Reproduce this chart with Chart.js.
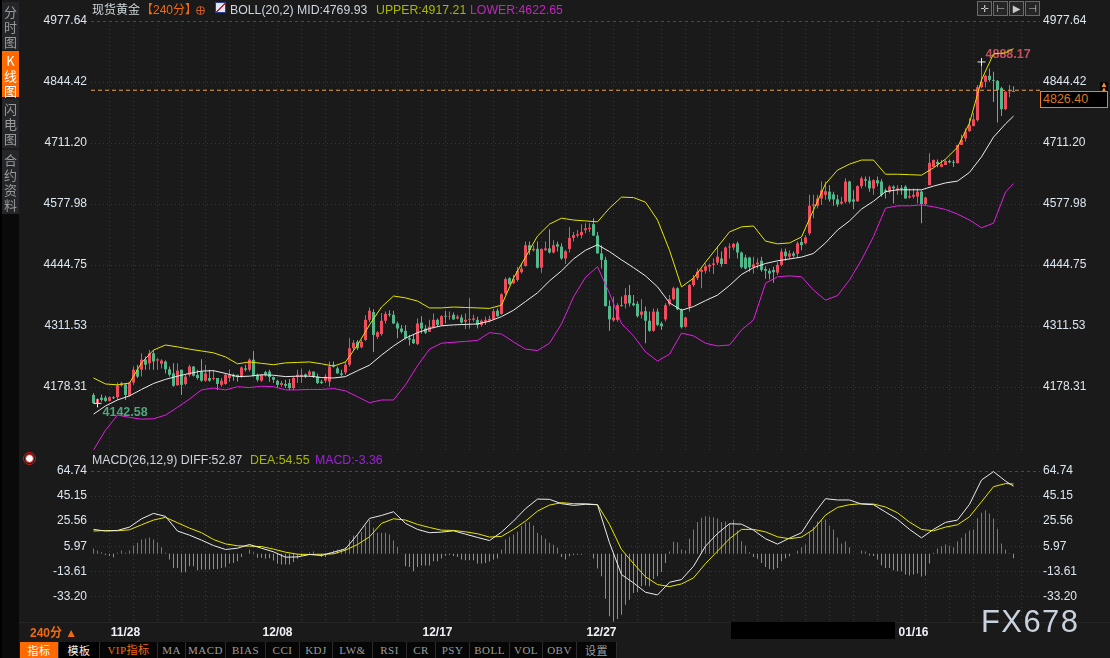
<!DOCTYPE html>
<html>
<head>
<meta charset="utf-8">
<title>现货黄金</title>
<script src="https://cdn.jsdelivr.net/npm/chart.js"></script>
<style>
  html, body { margin: 0; padding: 0; background: #1a1a1a; overflow: hidden; }
  body { width: 1110px; height: 658px; position: relative; font-family: "Liberation Sans", "Noto Sans CJK SC", sans-serif; font-size: 12px; color: #ccd6e0; }
  canvas { position: absolute; left: 0; }
  .t { position: absolute; white-space: nowrap; z-index: 2; line-height: 14px; }
  .side { position: absolute; left: 2px; width: 17px; text-align: center; font: 13px/15px "Noto Sans CJK SC", sans-serif; color: #9a9a9a; background: #24262a; z-index: 2; box-sizing: border-box; padding-top: 2px; }
  .tab { position: absolute; top: 642px; height: 16px; line-height: 16px; text-align: center; font: 11px/16px "Liberation Serif", "Noto Sans CJK SC", serif; color: #9c9c9c; background: #060606; border-right: 1px solid #2c2c2c; box-sizing: border-box; z-index: 2; letter-spacing: .5px; }
  .tool { position: absolute; top: 1px; width: 13px; height: 13px; border: 1px solid #6a6a6a; background: #262626; color: #c8c8c8; font: 10px/13px "DejaVu Sans", sans-serif; text-align: center; z-index: 2; }
</style>
</head>
<body>
<canvas id="priceChart" width="1110" height="450" style="top:0"></canvas>
<canvas id="macdChart" width="1110" height="190" style="top:450px"></canvas>

<div style="position:absolute;left:0;top:0;width:2px;height:658px;background:#000;z-index:1"></div>
<div style="position:absolute;left:2px;top:214px;width:17px;height:444px;background:#0a0a0a;z-index:1"></div>
<div class="side" style="top:2px;height:48px">分<br>时<br>图</div>
<div class="side" style="top:51px;height:46px;background:#ff6a00;color:#fff">K<br>线<br>图</div>
<div class="side" style="top:99px;height:49px">闪<br>电<br>图</div>
<div class="side" style="top:150px;height:64px">合<br>约<br>资<br>料</div>

<div class="t" style="left:92px;top:3px;color:#cfd6dc">现货黄金</div>
<div class="t" style="left:141px;top:3px;color:#f06a10">【240分】</div>
<div class="t" style="left:196px;top:6px;width:9px;height:9px;border:1px solid #d05a20;border-radius:50%;box-sizing:border-box;background:linear-gradient(#d05a20,#d05a20) center/100% 1px no-repeat,linear-gradient(#d05a20,#d05a20) center/1px 100% no-repeat"></div>
<div class="t" style="left:215px;top:2px;width:11px;height:11px;background:#dfe6f5;border:1px solid #2a3f9a;box-sizing:border-box;background-image:linear-gradient(135deg,transparent 45%,#d02020 45%,#d02020 60%,transparent 60%)"></div>
<div class="t" style="left:230px;top:3px;font-size:12.3px">BOLL(20,2) MID:4769.93</div>
<div class="t" style="left:376px;top:3px;font-size:12.3px;color:#a8b800">UPPER:4917.21</div>
<div class="t" style="left:470px;top:3px;font-size:12.3px;color:#c226c2">LOWER:4622.65</div>

<div class="tool" style="left:977px">✛</div>
<div class="tool" style="left:993px">⊢</div>
<div class="tool" style="left:1009px">▶</div>
<div class="tool" style="left:1025px">⊣</div>

<div class="t" style="left:1100px;top:82px;color:#f09030;font-size:8px;line-height:5px;background:#000">▲<br>▲</div>
<div class="t" style="left:1040px;top:91px;width:68px;height:17px;box-sizing:border-box;border:1px solid #f08020;background:#000;color:#d87a20;padding-left:2px;line-height:15px;font-size:12.5px">4826.40</div>

<div class="t" style="left:25px;top:454px;width:7px;height:7px;border-radius:50%;background:#fff;border:1px solid #e01818;box-shadow:0 0 0 1px #1a1a1a,0 0 0 2px #d01818"></div>
<div class="t" style="left:92px;top:453px;font-size:12.3px">MACD(26,12,9) DIFF:52.87</div>
<div class="t" style="left:250px;top:453px;font-size:12.3px;color:#a8b800">DEA:54.55</div>
<div class="t" style="left:315px;top:453px;font-size:12.3px;color:#a020d8">MACD:-3.36</div>

<div style="position:absolute;left:19px;top:622px;width:1091px;height:1px;background:#262626;z-index:1"></div>
<div class="t" style="left:30px;top:626px;color:#f06a10;font-weight:bold">240分 ▲</div>
<div style="position:absolute;left:731px;top:622px;width:164px;height:17px;background:#000;z-index:2"></div>
<div class="t" style="left:981px;top:604px;font-size:31px;line-height:36px;letter-spacing:1.4px;color:#c8d2de">FX678</div>

<div class="tab" style="left:20px;width:39px;background:#ff6a00;color:#fff;font-family:'Noto Sans CJK SC'">指标</div>
<div class="tab" style="left:59px;width:41px;background:#000;color:#eee;font-family:'Noto Sans CJK SC'">模板</div>
<div class="tab" style="left:100px;width:58px;color:#f06a10">VIP指标</div>
<div class="tab" style="left:158px;width:28px">MA</div>
<div class="tab" style="left:186px;width:40px">MACD</div>
<div class="tab" style="left:226px;width:40px">BIAS</div>
<div class="tab" style="left:266px;width:34px">CCI</div>
<div class="tab" style="left:300px;width:33px">KDJ</div>
<div class="tab" style="left:333px;width:40px">LW&amp;</div>
<div class="tab" style="left:373px;width:34px">RSI</div>
<div class="tab" style="left:407px;width:29px">CR</div>
<div class="tab" style="left:436px;width:34px">PSY</div>
<div class="tab" style="left:470px;width:40px">BOLL</div>
<div class="tab" style="left:510px;width:33px">VOL</div>
<div class="tab" style="left:543px;width:34px">OBV</div>
<div class="tab" style="left:577px;width:40px;font-family:'Noto Sans CJK SC'">设置</div>

<script>
    // 价格轴和 MACD 轴刻度
    const priceTicks = [4977.64, 4844.42, 4711.20, 4577.98, 4444.75, 4311.53, 4178.31];
    const macdTicks = [64.74, 45.15, 25.56, 5.97, -13.61, -33.20];
    const dateIdx = [8, 46, 86, 127, 205];
    const dateLabels = ['11/28', '12/08', '12/17', '12/27', '01/16'];
    const lastPrice = 4826.40;

    // 240分K线 [开, 高, 低, 收]
    const ohlc = [
        [4161,4165,4143,4143],[4143,4154,4142.58,4152],[4155,4162,4146,4150],[4155,4159,4146,4148],[4148,4158,4147,4156],[4156,4158,4152,4154],[4156,4188,4150,4182],[4182,4190,4179,4187],[4184,4187,4150,4161],[4159,4190,4157,4188],
        [4188,4223,4183,4216],[4216,4227,4198,4201],[4216,4252,4201,4238],[4238,4245,4216,4227],[4230,4259,4216,4252],[4252,4259,4216,4234],[4236,4241,4216,4239],[4229,4239,4219,4236],[4234,4236,4208,4217],[4217,4223,4201,4205],
        [4208,4230,4179,4181],[4182,4230,4181,4214],[4216,4216,4161,4183],[4185,4205,4182,4201],[4205,4227,4201,4223],[4223,4224,4201,4203],[4205,4216,4194,4198],[4212,4239,4190,4192],[4192,4227,4190,4208],[4198,4216,4190,4192],
        [4196,4215,4193,4198],[4198,4198,4172,4185],[4183,4198,4179,4192],[4185,4208,4183,4205],[4198,4216,4190,4205],[4205,4208,4192,4201],[4205,4205,4190,4200],[4201,4223,4198,4221],[4219,4227,4212,4216],[4216,4241,4212,4238],
        [4238,4257,4201,4203],[4205,4208,4190,4194],[4192,4206,4190,4205],[4211,4214,4201,4205],[4212,4216,4190,4200],[4200,4201,4187,4194],[4192,4194,4176,4183],[4183,4192,4179,4187],[4185,4194,4176,4181],[4187,4196,4171,4176],
        [4176,4201,4171,4198],[4200,4216,4187,4205],[4201,4219,4187,4205],[4206,4208,4198,4201],[4205,4216,4200,4212],[4212,4212,4198,4201],[4201,4208,4185,4187],[4190,4194,4185,4187],[4192,4206,4187,4201],[4190,4234,4179,4223],
        [4227,4234,4221,4223],[4219,4223,4208,4208],[4208,4216,4201,4205],[4210,4234,4205,4227],[4227,4285,4223,4263],[4263,4281,4259,4275],[4277,4281,4259,4263],[4265,4281,4263,4277],[4281,4335,4279,4325],[4325,4352,4320,4345],
        [4342,4348,4255,4292],[4288,4300,4283,4298],[4294,4340,4290,4323],[4323,4343,4317,4338],[4338,4346,4332,4336],[4336,4345,4316,4317],[4317,4321,4285,4306],[4306,4314,4295,4299],[4301,4314,4282,4285],[4285,4292,4269,4282],
        [4283,4292,4272,4274],[4272,4328,4270,4317],[4319,4333,4295,4306],[4306,4314,4294,4297],[4299,4325,4299,4310],[4308,4339,4306,4325],[4325,4328,4310,4314],[4314,4335,4311,4333],[4334,4345,4317,4332],[4332,4343,4325,4333],
        [4336,4341,4325,4326],[4328,4336,4326,4332],[4330,4336,4317,4319],[4321,4339,4305,4325],[4325,4372,4306,4327],[4325,4336,4321,4328],[4325,4332,4306,4314],[4314,4326,4310,4323],[4321,4332,4314,4325],[4323,4334,4319,4327],
        [4326,4349,4325,4344],[4345,4350,4332,4333],[4338,4383,4336,4381],[4383,4418,4379,4414],[4416,4418,4401,4403],[4405,4423,4403,4414],[4412,4441,4408,4432],[4429,4448,4426,4437],[4443,4496,4441,4488],[4488,4496,4467,4477],
        [4477,4488,4474,4480],[4480,4496,4437,4439],[4439,4481,4428,4480],[4477,4496,4476,4481],[4481,4523,4470,4472],[4472,4499,4470,4488],[4490,4496,4474,4485],[4485,4492,4456,4459],[4459,4477,4447,4475],[4480,4528,4472,4504],
        [4504,4517,4496,4510],[4509,4521,4505,4512],[4510,4534,4503,4517],[4521,4536,4514,4525],[4523,4536,4517,4526],[4534,4547,4508,4509],[4509,4517,4470,4470],[4470,4488,4437,4456],[4456,4463,4354,4355],[4355,4368,4301,4326],
        [4324,4376,4321,4330],[4325,4361,4321,4357],[4357,4376,4354,4355],[4360,4394,4350,4379],[4379,4401,4354,4361],[4361,4379,4354,4357],[4360,4365,4330,4333],[4336,4370,4328,4343],[4344,4354,4274,4323],[4323,4343,4299,4301],
        [4301,4350,4299,4343],[4343,4350,4311,4314],[4317,4321,4303,4311],[4326,4361,4322,4357],[4359,4379,4355,4370],[4370,4397,4368,4394],[4394,4396,4346,4348],[4346,4350,4306,4309],[4310,4332,4308,4330],[4354,4403,4343,4401],
        [4401,4423,4397,4416],[4416,4437,4412,4430],[4430,4437,4394,4434],[4432,4448,4426,4442],[4441,4448,4430,4445],[4445,4459,4425,4448],[4450,4485,4445,4463],[4459,4474,4441,4447],[4447,4485,4447,4483],[4483,4492,4459,4485],
        [4483,4493,4477,4491],[4492,4496,4459,4472],[4472,4474,4437,4440],[4461,4467,4435,4437],[4461,4463,4430,4440],[4440,4463,4426,4446],[4446,4459,4437,4450],[4454,4463,4430,4434],[4436,4442,4415,4432],[4432,4437,4413,4426],
        [4434,4441,4406,4429],[4428,4452,4423,4445],[4445,4481,4442,4474],[4474,4481,4454,4464],[4463,4477,4457,4470],[4470,4474,4461,4465],[4469,4496,4461,4492],[4495,4503,4477,4488],[4492,4510,4490,4505],[4514,4598,4510,4574],
        [4574,4598,4547,4577],[4574,4598,4568,4590],[4590,4627,4576,4608],[4598,4627,4587,4606],[4605,4619,4583,4588],[4599,4605,4574,4588],[4588,4598,4572,4577],[4579,4594,4576,4583],[4583,4634,4579,4627],[4627,4629,4579,4583],
        [4588,4608,4567,4583],[4584,4619,4583,4617],[4617,4638,4612,4634],[4632,4638,4616,4629],[4629,4638,4605,4612],[4612,4632,4598,4630],[4630,4638,4616,4623],[4627,4632,4594,4598],[4608,4612,4590,4605],[4605,4619,4601,4616],
        [4616,4619,4579,4612],[4608,4619,4598,4612],[4613,4619,4598,4611],[4616,4619,4590,4590],[4592,4612,4590,4595],[4594,4612,4590,4598],[4594,4612,4579,4605],[4605,4608,4536,4578],[4578,4594,4576,4592],[4619,4689,4619,4668],
        [4659,4675,4658,4674],[4670,4675,4658,4665],[4659,4674,4658,4665],[4663,4675,4663,4672],[4672,4675,4667,4669],[4670,4674,4659,4668],[4667,4707,4667,4707],[4707,4729,4707,4718],[4721,4743,4714,4736],[4737,4765,4736,4750],
        [4748,4776,4748,4763],[4761,4838,4758,4833],[4833,4888.17,4831,4845],[4845,4860,4833,4858],[4858,4874,4845,4849],[4849,4867,4801,4847],[4847,4849,4756,4827],[4831,4834,4770,4785],[4785,4825,4783,4823],[4822,4838,4811,4823],
        [4825,4835,4823,4823]
    ];

    // BOLL 三条线,每3根K线读一个值,最后一点是第230根
    const bollUpper = [4198,4185,4183,4187,4231,4259,4270,4266,4261,4257,4253,4244,4229,4233,4230,4227,4231,4232,4233,4229,4224,4233,4270,4314,4353,4377,4373,4366,4351,4351,4353,4352,4351,4350,4357,4416,4462,4508,4534,4547,4543,4541,4539,4569,4593,4592,4582,4543,4477,4397,4416,4451,4484,4517,4528,4530,4497,4491,4493,4506,4565,4622,4652,4665,4674,4674,4643,4643,4642,4641,4657,4676,4702,4755,4849,4906,4908,4917.21];
    const bollMid = [4119,4137,4150,4159,4173,4186,4195,4202,4208,4213,4214,4208,4201,4202,4205,4204,4201,4202,4202,4199,4198,4201,4214,4226,4248,4268,4285,4297,4306,4312,4314,4315,4316,4322,4332,4346,4365,4384,4410,4432,4458,4477,4489,4474,4456,4439,4421,4397,4362,4346,4354,4367,4379,4400,4424,4439,4448,4454,4458,4462,4470,4493,4521,4541,4567,4584,4605,4609,4609,4609,4617,4624,4628,4647,4681,4724,4753,4769.93];
    const bollLower = [4041,4084,4117,4112,4108,4109,4117,4134,4152,4172,4176,4172,4179,4177,4180,4179,4172,4172,4173,4173,4175,4170,4157,4144,4150,4150,4183,4225,4261,4274,4276,4278,4280,4297,4294,4277,4261,4258,4274,4316,4375,4418,4441,4383,4317,4290,4255,4235,4250,4296,4290,4274,4268,4270,4303,4325,4405,4419,4421,4419,4390,4368,4378,4412,4456,4507,4569,4574,4574,4576,4572,4566,4556,4543,4526,4536,4604,4622.65];

    // MACD 两条线,取点方式同上
    const macdDiff = [19.1,17.8,18.3,20.9,27.4,31.6,29.3,17.8,14.6,10.7,6.5,3.4,4.4,7.3,4.4,1.6,-2.6,-2.4,-0.5,-1.3,1.3,3.9,15.1,27.7,30,32.9,23.8,19.1,16.5,17,18,15.4,12.8,10.4,17,25.6,35.3,42.8,42.6,39.2,37.9,38.7,38.4,8.6,-16.2,-22.7,-30,-32.1,-22.2,-20.1,-9.7,6,15.9,23.5,23.2,18.5,11.8,7.6,12.3,16.5,30.8,43.1,42.1,42.1,38.9,38.4,32.7,26.9,19.1,12.5,19.1,24.6,26.4,38.7,57.7,64.3,56.9,52.87];
    const macdDea = [17.8,18.3,18,18.8,22.7,26.4,28.5,24.3,20.1,16.5,11.2,7.8,6.3,6,5.7,3.7,1.3,-0.3,-0.5,-0.3,0,2.9,7.3,13.3,23.8,27.4,26.4,23,20.6,18.5,18.3,17.2,15.7,13.1,13.6,19.1,25.6,33.4,38.1,40,39.2,39.2,38.4,23,3.4,-7.6,-18,-24,-25.6,-23.5,-18.8,-7.6,2.1,11.8,19.1,19.1,17.2,13.3,11.8,13.1,19.1,30.3,36.3,38.4,39.2,38.9,36.6,32.1,24.8,19.1,18,20.9,22.7,29,40.7,52.5,54.9,54.55];
    const macdHist = [
        4.2,2.6,1.3,-1,-1.6,-2.6,.8,2.6,.8,2.6,6.5,8.6,11.2,11.8,12.8,11.2,9.1,5.2,.8,-4.4,
        -11,-11,-14.6,-14.4,-9.7,-9.7,-12.8,-12.3,-12.3,-12.3,-11.8,-11.8,-11,-10.4,-7.6,-7.1,-5.7,-2.4,.3,3.4,
        1.3,-3.1,-3.1,-3.9,-3.4,-5.2,-7.8,-8.4,-8.4,-8.4,-6.3,-3.9,-1.8,.3,1.3,1.8,.3,-2.4,-2.4,1.3,
        2.6,3.4,3.4,5.2,10.7,14.4,15.1,17,22.2,26.4,20.4,16.5,16.5,16.5,15.1,10.4,5.5,.3,-9.7,-10.2,
        -13.6,-10.2,-9.1,-9.1,-9.1,-5.7,-5.7,-3.7,-1.6,-1,-1.6,-2.4,-4.4,-5,-5,-5,-7.6,-7.6,-7.1,-6,
        -4.4,-3.7,3.4,11.2,13.3,15.1,17,21.7,24.3,24.8,22.2,16.5,14.4,11.8,8.6,7.1,5,-2.4,-4.4,-1.8,
        -1,-.8,-.8,.3,.3,-3.7,-11.5,-17.5,-35,-48.8,-52.8,-50.9,-47.5,-39.7,-35.8,-30.6,-30,-25.3,-24.8,-25.3,
        -19.6,-17.5,-14.1,-7.1,1.8,9.4,8.9,3.4,2.9,12,19.1,24.8,28.2,29.3,29,28.5,27.7,24.8,25.3,23.8,
        26.4,18.3,9.9,6.5,1.3,-2.4,-3.9,-7.1,-10.2,-11.8,-12.3,-11,-5.7,-3.4,-1.8,.3,2.4,5.2,7.3,16.5,
        21.2,25.3,26.4,26.9,22.2,19.1,12.8,8.1,9.7,5.2,.3,.3,2.6,1.8,-1.3,-1.6,-4.4,-8.9,-11,-11,
        -12.8,-13.6,-13.6,-16.2,-17,-16.2,-15.4,-17.8,-17,-7.6,.8,4.2,6,7.3,6.5,5.2,9.7,12.5,15.9,18.3,
        19.1,27.9,32.1,34,31.6,27.7,19.6,8.1,3.4,.5,-3.36
    ];

    // 最高最低点标记
    const extremes = [
        { idx: 222, price: 4888.17, color: '#c4505c', dx: 4, dy: -7 },
        { idx: 1, price: 4142.58, color: '#4fa87c', dx: 5, dy: 9 }
    ];

    const RED = '#f04c5e', GREEN = '#50b88a', BAR_RED = '#c85460', BAR_GREEN = '#5ba88c';
    const FONT = '"Liberation Sans", "Noto Sans CJK SC", sans-serif';
    const xMin = -0.625, xMax = 236.625;
    const priceMin = 4040.74, macdMin = -53.26;

    const lineIdx = ohlc.map((_, i) => i).filter(i => i % 3 === 0 || i === ohlc.length - 1);
    const gridIdx = [];
    for (let i = 4; i < xMax; i += 6) gridIdx.push(i);

    const toLine = (values) => values.map((v, i) => ({ x: lineIdx[i], y: v }));
    const lineSet = (values, color, yAxisID) => ({
        type: 'line', data: toLine(values), borderColor: color, borderWidth: 1,
        pointRadius: 0, tension: 0, order: 1, yAxisID: yAxisID
    });

    function fixedX(extra) {
        return Object.assign({
            type: 'linear', min: xMin, max: xMax, offset: false, position: 'bottom',
            grid: { offset: false, color: '#3a3a3a', drawTicks: false },
            border: { display: false, dash: [1, 3] },
            ticks: { display: false, autoSkip: false },
            afterBuildTicks: (axis) => { axis.ticks = gridIdx.map(v => ({ value: v })); },
            afterFit: (axis) => { axis.height = 0; }
        }, extra);
    }

    function valueAxis(min, max, ticks, side) {
        return {
            type: 'linear', min: min, max: max, position: side,
            grid: {
                drawOnChartArea: side === 'left', drawTicks: false,
                color: (c) => (c.tick && c.tick.value === max ? '#484848' : '#363636')
            },
            border: { display: false, dash: (c) => (c.tick && c.tick.value === max ? [3, 3] : [1, 3]) },
            ticks: {
                color: '#dce6f0', padding: side === 'left' ? 4 : 3, autoSkip: false,
                font: { family: FONT, size: 12 }, callback: (v) => v.toFixed(2)
            },
            afterBuildTicks: (axis) => { axis.ticks = ticks.map(v => ({ value: v })); },
            // 刻度文字不再占用绘图区的上下空间
            afterFit: (axis) => {
                axis.width = side === 'left' ? 91 : 70;
                axis.paddingTop = 0;
                axis.paddingBottom = 0;
            }
        };
    }

    // 高低点文字画在线的下面
    const extremeLabels = {
        id: 'extremeLabels',
        beforeDatasetsDraw(chart) {
            const ctx = chart.ctx;
            ctx.save();
            ctx.font = 'bold 12.5px ' + FONT;
            ctx.textBaseline = 'middle';
            extremes.forEach(e => {
                ctx.fillStyle = e.color;
                ctx.fillText(e.price.toFixed(2), chart.scales.x.getPixelForValue(e.idx) + e.dx, chart.scales.y.getPixelForValue(e.price) + e.dy);
            });
            ctx.restore();
        }
    };

    // K线图
    const priceCtx = document.getElementById('priceChart').getContext('2d');
    const priceChart = new Chart(priceCtx, {
        type: 'bar',
        data: {
            datasets: [
                {
                    data: ohlc.map((c, i) => ({ x: i, y: [c[2], c[1]] })),
                    backgroundColor: ohlc.map(c => (c[3] >= c[0] ? RED : GREEN)),
                    barThickness: 1, grouped: false, order: 6, inflateAmount: 0
                },
                {
                    data: ohlc.map((c, i) => ({ x: i, y: [c[0], c[3]] })),
                    backgroundColor: ohlc.map(c => (c[3] >= c[0] ? RED : GREEN)),
                    barThickness: 3, grouped: false, order: 5, inflateAmount: 0
                },
                lineSet(bollLower, '#e020e0', 'y'),
                lineSet(bollUpper, '#e6e600', 'y'),
                lineSet(bollMid, '#ececec', 'y'),
                {
                    type: 'line', data: [{ x: xMin, y: lastPrice }, { x: xMax, y: lastPrice }],
                    borderColor: '#eba04a', borderWidth: 1, borderDash: [4, 3], pointRadius: 0, order: 4
                },
                {
                    type: 'line', showLine: false, data: extremes.map(e => ({ x: e.idx, y: e.price })),
                    pointStyle: 'cross', pointRadius: 4, pointBorderColor: '#f0f0f0', pointBorderWidth: 1, order: 0
                }
            ]
        },
        options: {
            responsive: false, animation: false, events: [],
            layout: { autoPadding: false, padding: { top: 21 } },
            plugins: { legend: { display: false }, tooltip: { enabled: false } },
            scales: {
                x: fixedX({}),
                y: valueAxis(priceMin, priceTicks[0], priceTicks, 'left'),
                yRight: valueAxis(priceMin, priceTicks[0], priceTicks, 'right')
            }
        },
        plugins: [extremeLabels]
    });

    // MACD 图
    const macdCtx = document.getElementById('macdChart').getContext('2d');
    const macdChart = new Chart(macdCtx, {
        type: 'bar',
        data: {
            datasets: [
                {
                    data: macdHist.map((v, i) => ({ x: i, y: v })),
                    backgroundColor: macdHist.map(v => (v >= 0 ? BAR_RED : BAR_GREEN)),
                    barThickness: 1, grouped: false, order: 5, inflateAmount: 0
                },
                lineSet(macdDiff, '#ececec', 'y'),
                lineSet(macdDea, '#e6e600', 'y')
            ]
        },
        options: {
            responsive: false, animation: false, events: [],
            layout: { autoPadding: false, padding: { top: 21 } },
            plugins: { legend: { display: false }, tooltip: { enabled: false } },
            scales: {
                x: fixedX({}),
                xDate: {
                    type: 'linear', min: xMin, max: xMax, offset: false, position: 'bottom',
                    grid: { display: false, offset: false, drawTicks: false },
                    border: { display: false },
                    ticks: {
                        color: '#eef2f8', padding: 3, autoSkip: false, maxRotation: 0,
                        font: { family: FONT, size: 12, weight: 'bold' },
                        callback: (v) => dateLabels[dateIdx.indexOf(v)]
                    },
                    afterBuildTicks: (axis) => { axis.ticks = dateIdx.map(v => ({ value: v })); },
                    afterFit: (axis) => { axis.height = 18; }
                },
                y: valueAxis(macdMin, macdTicks[0], macdTicks, 'left'),
                yRight: valueAxis(macdMin, macdTicks[0], macdTicks, 'right')
            }
        }
    });
</script>
</body>
</html>
